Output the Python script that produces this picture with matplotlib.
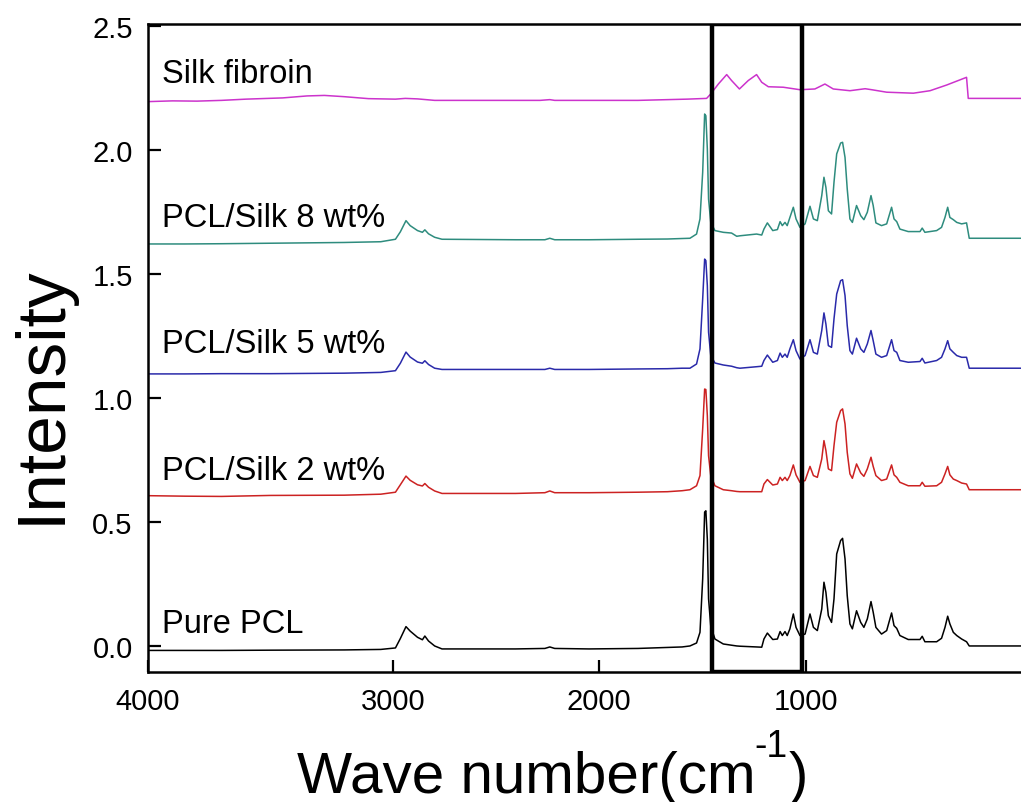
import numpy as np
import matplotlib
matplotlib.use('Agg')
from matplotlib import pyplot as plt

plt.rcParams['font.family'] = ['Liberation Sans', 'DejaVu Sans']

# wave numbers shared by the four PCL spectra (cm-1)
wn_pcl = [4000, 3850, 3700, 3500, 3200, 3050, 2990, 2970, 2947, 2930, 2900, 2880,
          2870, 2855, 2830, 2800, 2500, 2380, 2360, 2340, 2200, 2000, 1880, 1820,
          1788, 1761, 1747, 1736, 1728, 1723, 1717, 1712, 1703, 1686, 1652, 1618,
          1597, 1584, 1516, 1495, 1486, 1472, 1450, 1431, 1420, 1411, 1400, 1391,
          1380, 1366, 1355, 1339, 1318, 1298, 1284, 1268, 1250, 1241, 1233, 1223,
          1210, 1200, 1189, 1173, 1165, 1155, 1146, 1135, 1125, 1108, 1091, 1078,
          1064, 1049, 1040, 1029, 1006, 985, 965, 955, 944, 931, 897, 849,
          840, 829, 781, 761, 747, 736, 727, 713, 699, 679, 659, 648,
          604, 380]

pure_pcl = [-0.018, -0.018, -0.018, -0.017, -0.016, -0.014, -0.008, 0.03, 0.078, 0.06, 0.035, 0.025,
            0.04, 0.02, 0.0, -0.012, -0.012, -0.01, -0.004, -0.01, -0.012, -0.01, -0.006, -0.004,
            0.0, 0.012, 0.055, 0.27, 0.54, 0.545, 0.43, 0.19, 0.08, 0.028, 0.008, 0.003,
            0.0, -0.001, -0.004, -0.005, 0.028, 0.052, 0.026, 0.028, 0.058, 0.042, 0.058, 0.042,
            0.069, 0.129, 0.075, 0.042, 0.048, 0.129, 0.075, 0.062, 0.149, 0.257, 0.216, 0.122,
            0.095, 0.19, 0.371, 0.425, 0.434, 0.351, 0.203, 0.089, 0.069, 0.142, 0.095, 0.075,
            0.109, 0.179, 0.136, 0.075, 0.048, 0.062, 0.133, 0.082, 0.071, 0.042, 0.026, 0.026,
            0.039, 0.017, 0.017, 0.031, 0.075, 0.12, 0.089, 0.055, 0.042, 0.028, 0.017, 0.0,
            0.0, 0.0]

silk_2wt = [0.606, 0.604, 0.603, 0.607, 0.608, 0.612, 0.62, 0.65, 0.685, 0.668, 0.65, 0.645,
            0.655, 0.64, 0.625, 0.615, 0.615, 0.618, 0.625, 0.618, 0.618, 0.62, 0.622, 0.626,
            0.63, 0.646, 0.687, 0.875, 1.036, 1.034, 0.929, 0.767, 0.687, 0.646, 0.63, 0.626,
            0.623, 0.622, 0.622, 0.622, 0.653, 0.671, 0.649, 0.653, 0.68, 0.667, 0.68, 0.667,
            0.687, 0.73, 0.69, 0.66, 0.667, 0.724, 0.687, 0.68, 0.754, 0.828, 0.788, 0.714,
            0.707, 0.808, 0.902, 0.949, 0.956, 0.895, 0.781, 0.694, 0.676, 0.734, 0.698, 0.684,
            0.714, 0.761, 0.724, 0.687, 0.667, 0.673, 0.73, 0.69, 0.68, 0.66, 0.646, 0.646,
            0.66, 0.644, 0.646, 0.66, 0.694, 0.724, 0.69, 0.673, 0.667, 0.657, 0.653, 0.63,
            0.63, 0.63]

silk_5wt = [1.097, 1.097, 1.098, 1.098, 1.1, 1.103, 1.11, 1.14, 1.185, 1.165, 1.145, 1.14,
            1.15, 1.135, 1.12, 1.115, 1.115, 1.115, 1.12, 1.115, 1.115, 1.117, 1.118, 1.12,
            1.12, 1.137, 1.198, 1.399, 1.56, 1.554, 1.453, 1.265, 1.171, 1.141, 1.133, 1.128,
            1.122, 1.12, 1.126, 1.128, 1.151, 1.173, 1.144, 1.151, 1.181, 1.164, 1.177, 1.164,
            1.198, 1.235, 1.191, 1.157, 1.171, 1.235, 1.184, 1.177, 1.272, 1.343, 1.298, 1.211,
            1.204, 1.319, 1.419, 1.473, 1.477, 1.413, 1.292, 1.191, 1.177, 1.241, 1.198, 1.184,
            1.218, 1.272, 1.231, 1.177, 1.164, 1.171, 1.235, 1.191, 1.184, 1.151, 1.144, 1.147,
            1.16, 1.141, 1.151, 1.164, 1.198, 1.231, 1.198, 1.184, 1.171, 1.164, 1.164, 1.12,
            1.12, 1.12]

silk_8wt = [1.621, 1.621, 1.622, 1.624, 1.627, 1.63, 1.64, 1.67, 1.715, 1.695, 1.675, 1.668,
            1.678, 1.662, 1.648, 1.64, 1.638, 1.638, 1.644, 1.638, 1.638, 1.64, 1.641, 1.643,
            1.644, 1.661, 1.722, 1.91, 2.145, 2.138, 2.004, 1.802, 1.708, 1.675, 1.668, 1.665,
            1.652, 1.654, 1.661, 1.657, 1.681, 1.706, 1.675, 1.679, 1.711, 1.695, 1.708, 1.695,
            1.728, 1.769, 1.722, 1.688, 1.702, 1.773, 1.722, 1.715, 1.816, 1.89, 1.849, 1.755,
            1.742, 1.87, 1.984, 2.028, 2.031, 1.97, 1.843, 1.722, 1.708, 1.776, 1.735, 1.719,
            1.749, 1.816, 1.776, 1.706, 1.695, 1.702, 1.769, 1.722, 1.711, 1.681, 1.671, 1.671,
            1.685, 1.668, 1.675, 1.688, 1.728, 1.769, 1.728, 1.719, 1.708, 1.702, 1.706, 1.644,
            1.644, 1.644]

# silk fibroin spectrum on its own grid
wn_silk = [4000, 3900, 3800, 3700, 3600, 3450, 3350, 3280, 3200, 3100, 2990, 2950,
           2900, 2830, 2600, 2400, 2360, 2340, 2000, 1800, 1720, 1703, 1672, 1638,
           1618, 1586, 1550, 1516, 1495, 1468, 1407, 1339, 1278, 1237, 1203, 1135,
           1073, 1046, 985, 876, 808, 740, 659, 652, 380]
silk_fibroin = [2.195, 2.198, 2.197, 2.2, 2.205, 2.21, 2.218, 2.22, 2.215, 2.207, 2.205, 2.208,
                2.206, 2.2, 2.2, 2.2, 2.203, 2.2, 2.2, 2.205, 2.208, 2.226, 2.266, 2.304,
                2.28, 2.246, 2.28, 2.304, 2.273, 2.255, 2.253, 2.243, 2.246, 2.266, 2.246, 2.239,
                2.247, 2.243, 2.233, 2.229, 2.239, 2.262, 2.293, 2.208, 2.208]

labels = ['Pure PCL', 'PCL/Silk 2 wt%', 'PCL/Silk 5 wt%', 'PCL/Silk 8 wt%', 'Silk fibroin']
label_y = [0.056, 0.673, 1.185, 1.694, 2.274]
colors = ['black', '#CC2222', '#2A2AAA', '#2E8C7E', '#CC33CC']

# x ticks as placed in the original figure
xtick_pos = [4000, 3000, 2159, 1314]
xtick_labels = ['4000', '3000', '2000', '1000']
box_range = (1331, 1698)

fig = plt.figure(figsize=(10.21, 8.03), dpi=100)
ax = fig.add_axes([148 / 1021, 1 - 673 / 803, 882 / 1021, 648 / 803])

series = [pure_pcl, silk_2wt, silk_5wt, silk_8wt]
for ys, c in zip(series, colors[:4]):
    ax.plot(wn_pcl, ys, color=c, lw=1.1)
ax.plot(wn_silk, silk_fibroin, color=colors[4], lw=1.1)

for text, y in zip(labels, label_y):
    ax.text(3943, y, text, fontsize=23.5, va='baseline', ha='left')

ax.axvspan(box_range[0], box_range[1], fill=False, ec='black', lw=3.2, zorder=5)

ax.set_xlim(4000, 400)
ax.set_ylim(-0.105, 2.508)
ax.set_xticks(xtick_pos)
ax.set_xticklabels(xtick_labels)
ax.set_yticks([0.0, 0.5, 1.0, 1.5, 2.0, 2.5])
ax.set_yticklabels(['0.0', '0.5', '1.0', '1.5', '2.0', '2.5'])
ax.tick_params(direction='in', length=9, width=1.6, labelsize=21, pad=11)
for sp in ax.spines.values():
    sp.set_linewidth(1.8)

fig.text(42 / 1021, 1 - 395 / 803, 'Intensity', rotation=90, fontsize=50,
         ha='center', va='center')

# x label built from pieces so the superscript keeps a plain hyphen
W, H = 1021, 803
t1 = fig.text(297 / W, 1 - 793 / H, 'Wave number(cm', fontsize=42,
              ha='left', va='baseline')
fig.canvas.draw()
bb = t1.get_window_extent()
t2 = fig.text((bb.x1 - 1) / W, 1 - 757 / H, '-1', fontsize=27,
              ha='left', va='baseline')
fig.canvas.draw()
bb2 = t2.get_window_extent()
fig.text((bb2.x1 + 1) / W, 1 - 793 / H, ')', fontsize=42,
         ha='left', va='baseline')

fig.savefig('out.png', dpi=100)
